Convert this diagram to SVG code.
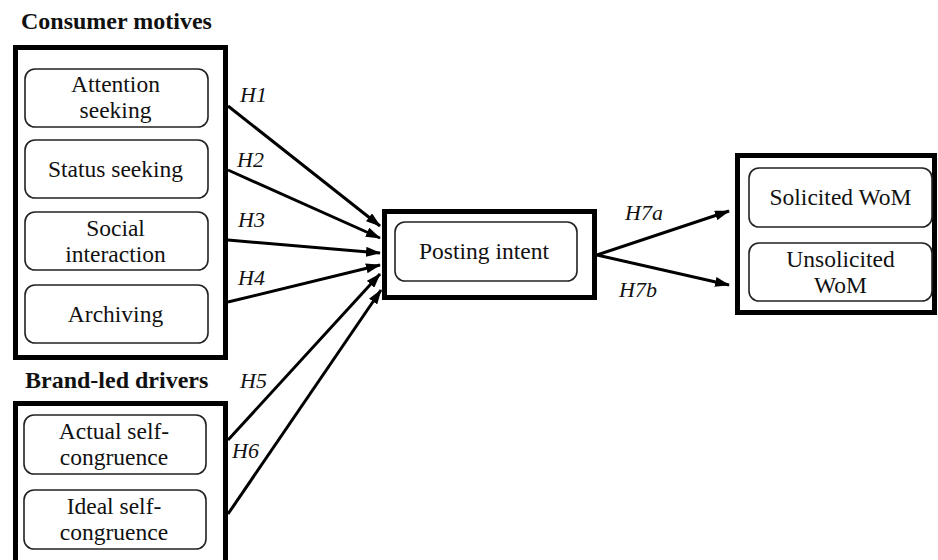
<svg xmlns="http://www.w3.org/2000/svg" width="938" height="560" viewBox="0 0 938 560" font-family="Liberation Serif">
<style>
.outer{fill:none;stroke:#000;stroke-width:5}
.inner{fill:#fff;stroke:#222;stroke-width:1.6}
.t{font-family:'Liberation Serif',serif;font-size:23.5px;fill:#111;text-anchor:middle}
.h{font-family:'Liberation Serif',serif;font-size:24px;font-weight:bold;fill:#111}
.lab{font-family:'Liberation Serif',serif;font-size:22px;font-style:italic;fill:#111}
.c{stroke:#000;stroke-width:3;fill:none;marker-end:url(#ah)}
</style>
<defs>
<marker id="ah" markerUnits="userSpaceOnUse" markerWidth="15" markerHeight="10" refX="14" refY="5" orient="auto">
<path d="M0,0 L15,5 L0,10 z" fill="#000"/>
</marker>
</defs>
<rect width="938" height="560" fill="#fff"/>
<g id="consumer-motives">
<text class="h" x="21" y="29">Consumer motives</text>
<rect class="outer" x="15.5" y="47.5" width="210" height="310"/>
</g>
<g id="attention-seeking">
<rect class="inner" x="25" y="69" width="183" height="58" rx="10"/>
<text class="t" x="115.5" y="92">Attention</text>
<text class="t" x="115.5" y="118">seeking</text>
</g>
<g id="status-seeking">
<rect class="inner" x="25" y="140" width="183" height="58" rx="10"/>
<text class="t" x="115.5" y="176.5">Status seeking</text>
</g>
<g id="social-interaction">
<rect class="inner" x="25" y="212" width="183" height="58" rx="10"/>
<text class="t" x="115.5" y="235.5">Social</text>
<text class="t" x="115.5" y="261.5">interaction</text>
</g>
<g id="archiving">
<rect class="inner" x="25" y="285" width="183" height="58" rx="10"/>
<text class="t" x="115.5" y="321.5">Archiving</text>
</g>
<g id="brand-led-drivers">
<text class="h" x="25" y="388">Brand-led drivers</text>
<rect class="outer" x="15.5" y="403.5" width="210" height="170"/>
</g>
<g id="actual-self-congruence">
<rect class="inner" x="24" y="415" width="182" height="59" rx="10"/>
<text class="t" x="114" y="439">Actual self-</text>
<text class="t" x="114" y="465">congruence</text>
</g>
<g id="ideal-self-congruence">
<rect class="inner" x="24" y="490" width="182" height="59" rx="10"/>
<text class="t" x="114" y="514">Ideal self-</text>
<text class="t" x="114" y="540">congruence</text>
</g>
<g id="posting-intent">
<rect class="outer" x="384.5" y="211.5" width="210" height="86"/>
<rect class="inner" x="395" y="222" width="182" height="59" rx="10"/>
<text class="t" x="484" y="259">Posting intent</text>
</g>
<g id="wom">
<rect class="outer" x="737.5" y="155.5" width="197" height="157"/>
</g>
<g id="solicited-wom">
<rect class="inner" x="749" y="168" width="183" height="59" rx="10"/>
<text class="t" x="840.5" y="205">Solicited WoM</text>
</g>
<g id="unsolicited-wom">
<rect class="inner" x="749" y="243" width="183" height="58" rx="10"/>
<text class="t" x="840.5" y="266.5">Unsolicited</text>
<text class="t" x="840.5" y="292.5">WoM</text>
</g>
<g id="connectors">
<line class="c" x1="228" y1="106" x2="380" y2="226"/>
<line class="c" x1="228" y1="170" x2="380" y2="238"/>
<line class="c" x1="228" y1="240" x2="380" y2="253"/>
<line class="c" x1="228" y1="302" x2="380" y2="265"/>
<line class="c" x1="228" y1="440" x2="380" y2="274"/>
<line class="c" x1="228" y1="514" x2="381" y2="290"/>
<line class="c" x1="597" y1="255" x2="729" y2="211"/>
<line class="c" x1="597" y1="255" x2="729" y2="285"/>
<text class="lab" x="240" y="102">H1</text>
<text class="lab" x="237" y="167">H2</text>
<text class="lab" x="238" y="227">H3</text>
<text class="lab" x="238" y="285">H4</text>
<text class="lab" x="240" y="388">H5</text>
<text class="lab" x="232" y="458">H6</text>
<text class="lab" x="625" y="220">H7a</text>
<text class="lab" x="619" y="297">H7b</text>
</g>
</svg>
